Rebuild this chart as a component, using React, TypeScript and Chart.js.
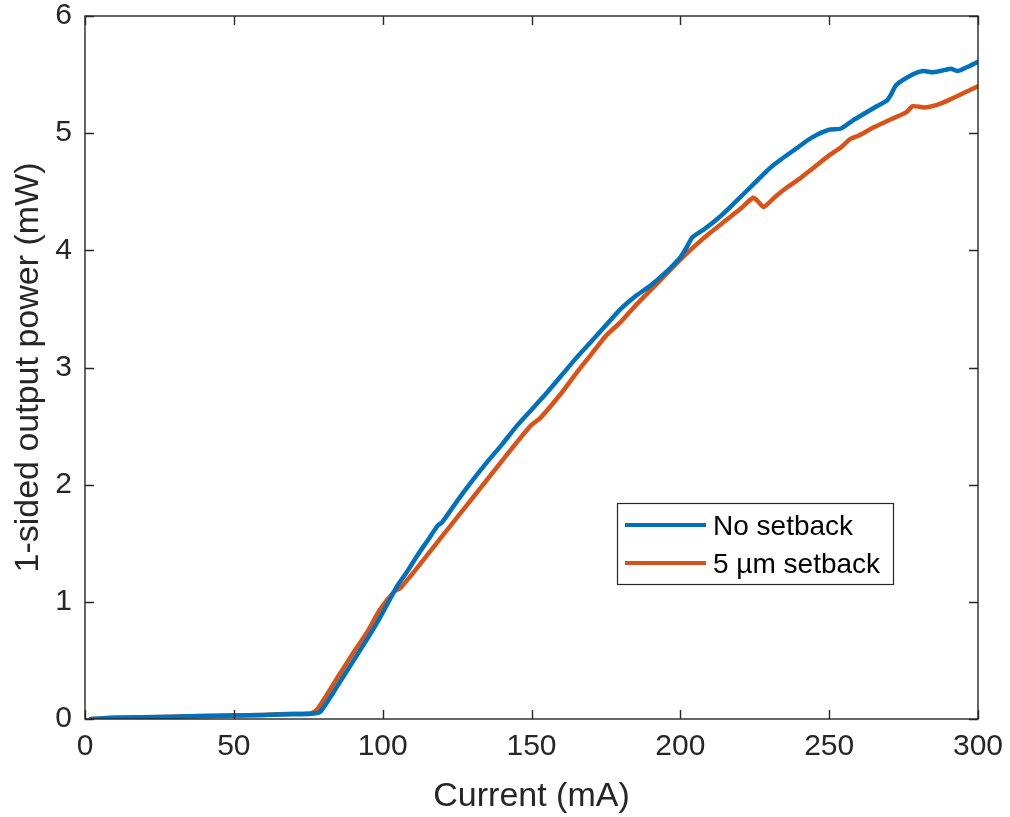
import React, { useEffect, useRef } from "react";
import { Chart, registerables } from "chart.js";

Chart.register(...registerables);

// ---- Data ----
const noSetbackCurrent = [
  2, 10, 20, 30, 40, 50, 60, 70, 76, 79, 85, 90, 95, 99, 105, 108, 111.5, 115, 118.5, 120,
  125, 130, 135, 140, 145, 150, 155, 160, 165, 170, 175, 180, 185, 190, 195, 200, 202, 204,
  208, 213, 218, 222, 226, 230, 234, 239, 244, 250, 254, 258, 262, 266, 269.5, 271, 272.5,
  278, 281.5, 285, 289, 291, 293, 296, 300,
];
const noSetbackPower = [
  0.0, 0.01, 0.015, 0.02, 0.025, 0.03, 0.035, 0.04, 0.045, 0.06, 0.29, 0.49, 0.69, 0.86, 1.14, 1.25, 1.39, 1.52, 1.65, 1.68,
  1.86, 2.03, 2.19, 2.34, 2.5, 2.64, 2.78, 2.93, 3.08, 3.22, 3.36, 3.5, 3.61, 3.7, 3.81, 3.94, 4.02, 4.11,
  4.18, 4.28, 4.4, 4.5, 4.6, 4.7, 4.78, 4.87, 4.96, 5.03, 5.04, 5.11, 5.17, 5.23, 5.28, 5.34, 5.41,
  5.5, 5.53, 5.52, 5.54, 5.55, 5.53, 5.56, 5.61,
];

const setback5Current = [
  2, 10, 20, 30, 40, 50, 60, 70, 76, 78, 85, 90, 95, 99, 104, 106, 110, 115, 120, 125, 130,
  135, 140, 145, 150, 153, 160, 165, 170, 175, 180, 185, 190, 195, 200, 205, 210, 215, 220,
  224.5, 226, 228, 232, 236, 240, 245, 250, 254, 257, 260, 265, 270, 276, 278, 282, 286, 290,
  295, 300,
];
const setback5Power = [
  0.0, 0.01, 0.015, 0.02, 0.025, 0.03, 0.035, 0.045, 0.05, 0.08, 0.36, 0.56, 0.75, 0.93, 1.09, 1.12, 1.24, 1.4, 1.56, 1.72, 1.88,
  2.04, 2.2, 2.36, 2.51, 2.57, 2.78, 2.95, 3.11, 3.27, 3.39, 3.53, 3.66, 3.79, 3.92, 4.04, 4.15, 4.25, 4.35,
  4.45, 4.42, 4.37, 4.46, 4.54, 4.61, 4.71, 4.81, 4.88, 4.95, 4.98, 5.05, 5.11, 5.18, 5.23, 5.22, 5.24, 5.28,
  5.34, 5.4,
];

const xTicks = [0, 50, 100, 150, 200, 250, 300];
const yTicks = [0, 1, 2, 3, 4, 5, 6];
const seriesNames = ["No setback", "5 \u00b5m setback"];
const seriesColors = ["#0072BD", "#D95319"];

const AXIS_COLOR = "#262626";
const FONT = "'Liberation Sans', Arial, Helvetica, sans-serif";

const framePlugin = {
  id: "matlabFrame",
  afterDatasetsDraw(chart: any) {
    const { ctx, chartArea, scales } = chart;
    const { left, right, top, bottom } = chartArea;
    ctx.save();
    ctx.strokeStyle = AXIS_COLOR;
    ctx.lineWidth = 1.4;
    ctx.strokeRect(left, top, right - left, bottom - top);
    const tl = 9;
    ctx.beginPath();
    for (const v of xTicks) {
      const px = Math.round(scales.x.getPixelForValue(v)) + 0.5;
      ctx.moveTo(px, bottom);
      ctx.lineTo(px, bottom - tl);
      ctx.moveTo(px, top);
      ctx.lineTo(px, top + tl);
    }
    for (const v of yTicks) {
      const py = Math.round(scales.y.getPixelForValue(v)) + 0.5;
      ctx.moveTo(left, py);
      ctx.lineTo(left + tl, py);
      ctx.moveTo(right, py);
      ctx.lineTo(right - tl, py);
    }
    ctx.stroke();

    // Legend box (MATLAB style, inside axes)
    const bx = 617, by = 503, bw = 276, bh = 81;
    ctx.fillStyle = "#ffffff";
    ctx.fillRect(bx, by, bw, bh);
    ctx.lineWidth = 1.2;
    ctx.strokeStyle = AXIS_COLOR;
    ctx.strokeRect(bx + 0.5, by + 0.5, bw, bh);
    ctx.font = `28px ${FONT}`;
    ctx.textBaseline = "middle";
    ctx.textAlign = "left";
    const rows = [525, 563];
    seriesNames.forEach((name, i) => {
      ctx.strokeStyle = seriesColors[i];
      ctx.lineWidth = 4;
      ctx.beginPath();
      ctx.moveTo(625, rows[i]);
      ctx.lineTo(706, rows[i]);
      ctx.stroke();
      ctx.fillStyle = "#000000";
      ctx.fillText(name, 713, rows[i] + 2);
    });
    ctx.restore();
  },
};

export default function App() {
  const canvasRef = useRef<HTMLCanvasElement | null>(null);

  useEffect(() => {
    document.body.style.margin = "0";
    const canvas = canvasRef.current;
    if (!canvas) return;
    const chart = new Chart(canvas, {
      type: "line",
      data: {
        datasets: [
          {
            label: seriesNames[0],
            data: noSetbackCurrent.map((x, i) => ({ x, y: noSetbackPower[i] })),
            borderColor: seriesColors[0],
            borderWidth: 4.5,
            pointRadius: 0,
            tension: 0.2,
            borderJoinStyle: "round",
            borderCapStyle: "round",
          },
          {
            label: seriesNames[1],
            data: setback5Current.map((x, i) => ({ x, y: setback5Power[i] })),
            borderColor: seriesColors[1],
            borderWidth: 4.5,
            pointRadius: 0,
            tension: 0.2,
            borderJoinStyle: "round",
            borderCapStyle: "round",
          },
        ],
      },
      options: {
        responsive: false,
        animation: false,
        layout: { padding: { top: 16, right: 32, left: 0, bottom: 0 } },
        plugins: {
          legend: { display: false },
          tooltip: { enabled: false },
        },
        scales: {
          x: {
            type: "linear",
            min: 0,
            max: 300,
            afterFit: (s: any) => {
              s.height = 98;
              s.paddingLeft = 0;
              s.paddingRight = 0;
            },
            afterBuildTicks: (s: any) => { s.ticks = xTicks.map((v) => ({ value: v })); },
            grid: { display: false, drawTicks: false },
            border: { display: false },
            ticks: {
              color: AXIS_COLOR,
              font: { family: FONT, size: 30 },
              padding: 10,
              maxRotation: 0,
            },
            title: {
              display: true,
              text: "Current (mA)",
              color: AXIS_COLOR,
              font: { family: FONT, size: 34 },
              padding: { top: 0, bottom: 0 },
            },
          },
          y: {
            type: "linear",
            min: 0,
            max: 6,
            afterFit: (s: any) => {
              s.width = 85;
              s.paddingTop = 0;
              s.paddingBottom = 0;
            },
            afterBuildTicks: (s: any) => { s.ticks = yTicks.map((v) => ({ value: v })); },
            grid: { display: false, drawTicks: false },
            border: { display: false },
            ticks: {
              color: AXIS_COLOR,
              font: { family: FONT, size: 30 },
              padding: 13,
            },
            title: {
              display: true,
              text: "1-sided output power (mW)",
              color: AXIS_COLOR,
              font: { family: FONT, size: 34 },
              padding: { top: 8, bottom: 0 },
            },
          },
        },
      },
      plugins: [framePlugin],
    } as any);
    return () => chart.destroy();
  }, []);

  return (
    <div style={{ width: 1010, height: 817, background: "#fff" }}>
      <canvas ref={canvasRef} width={1010} height={817} style={{ display: "block" }} />
    </div>
  );
}
